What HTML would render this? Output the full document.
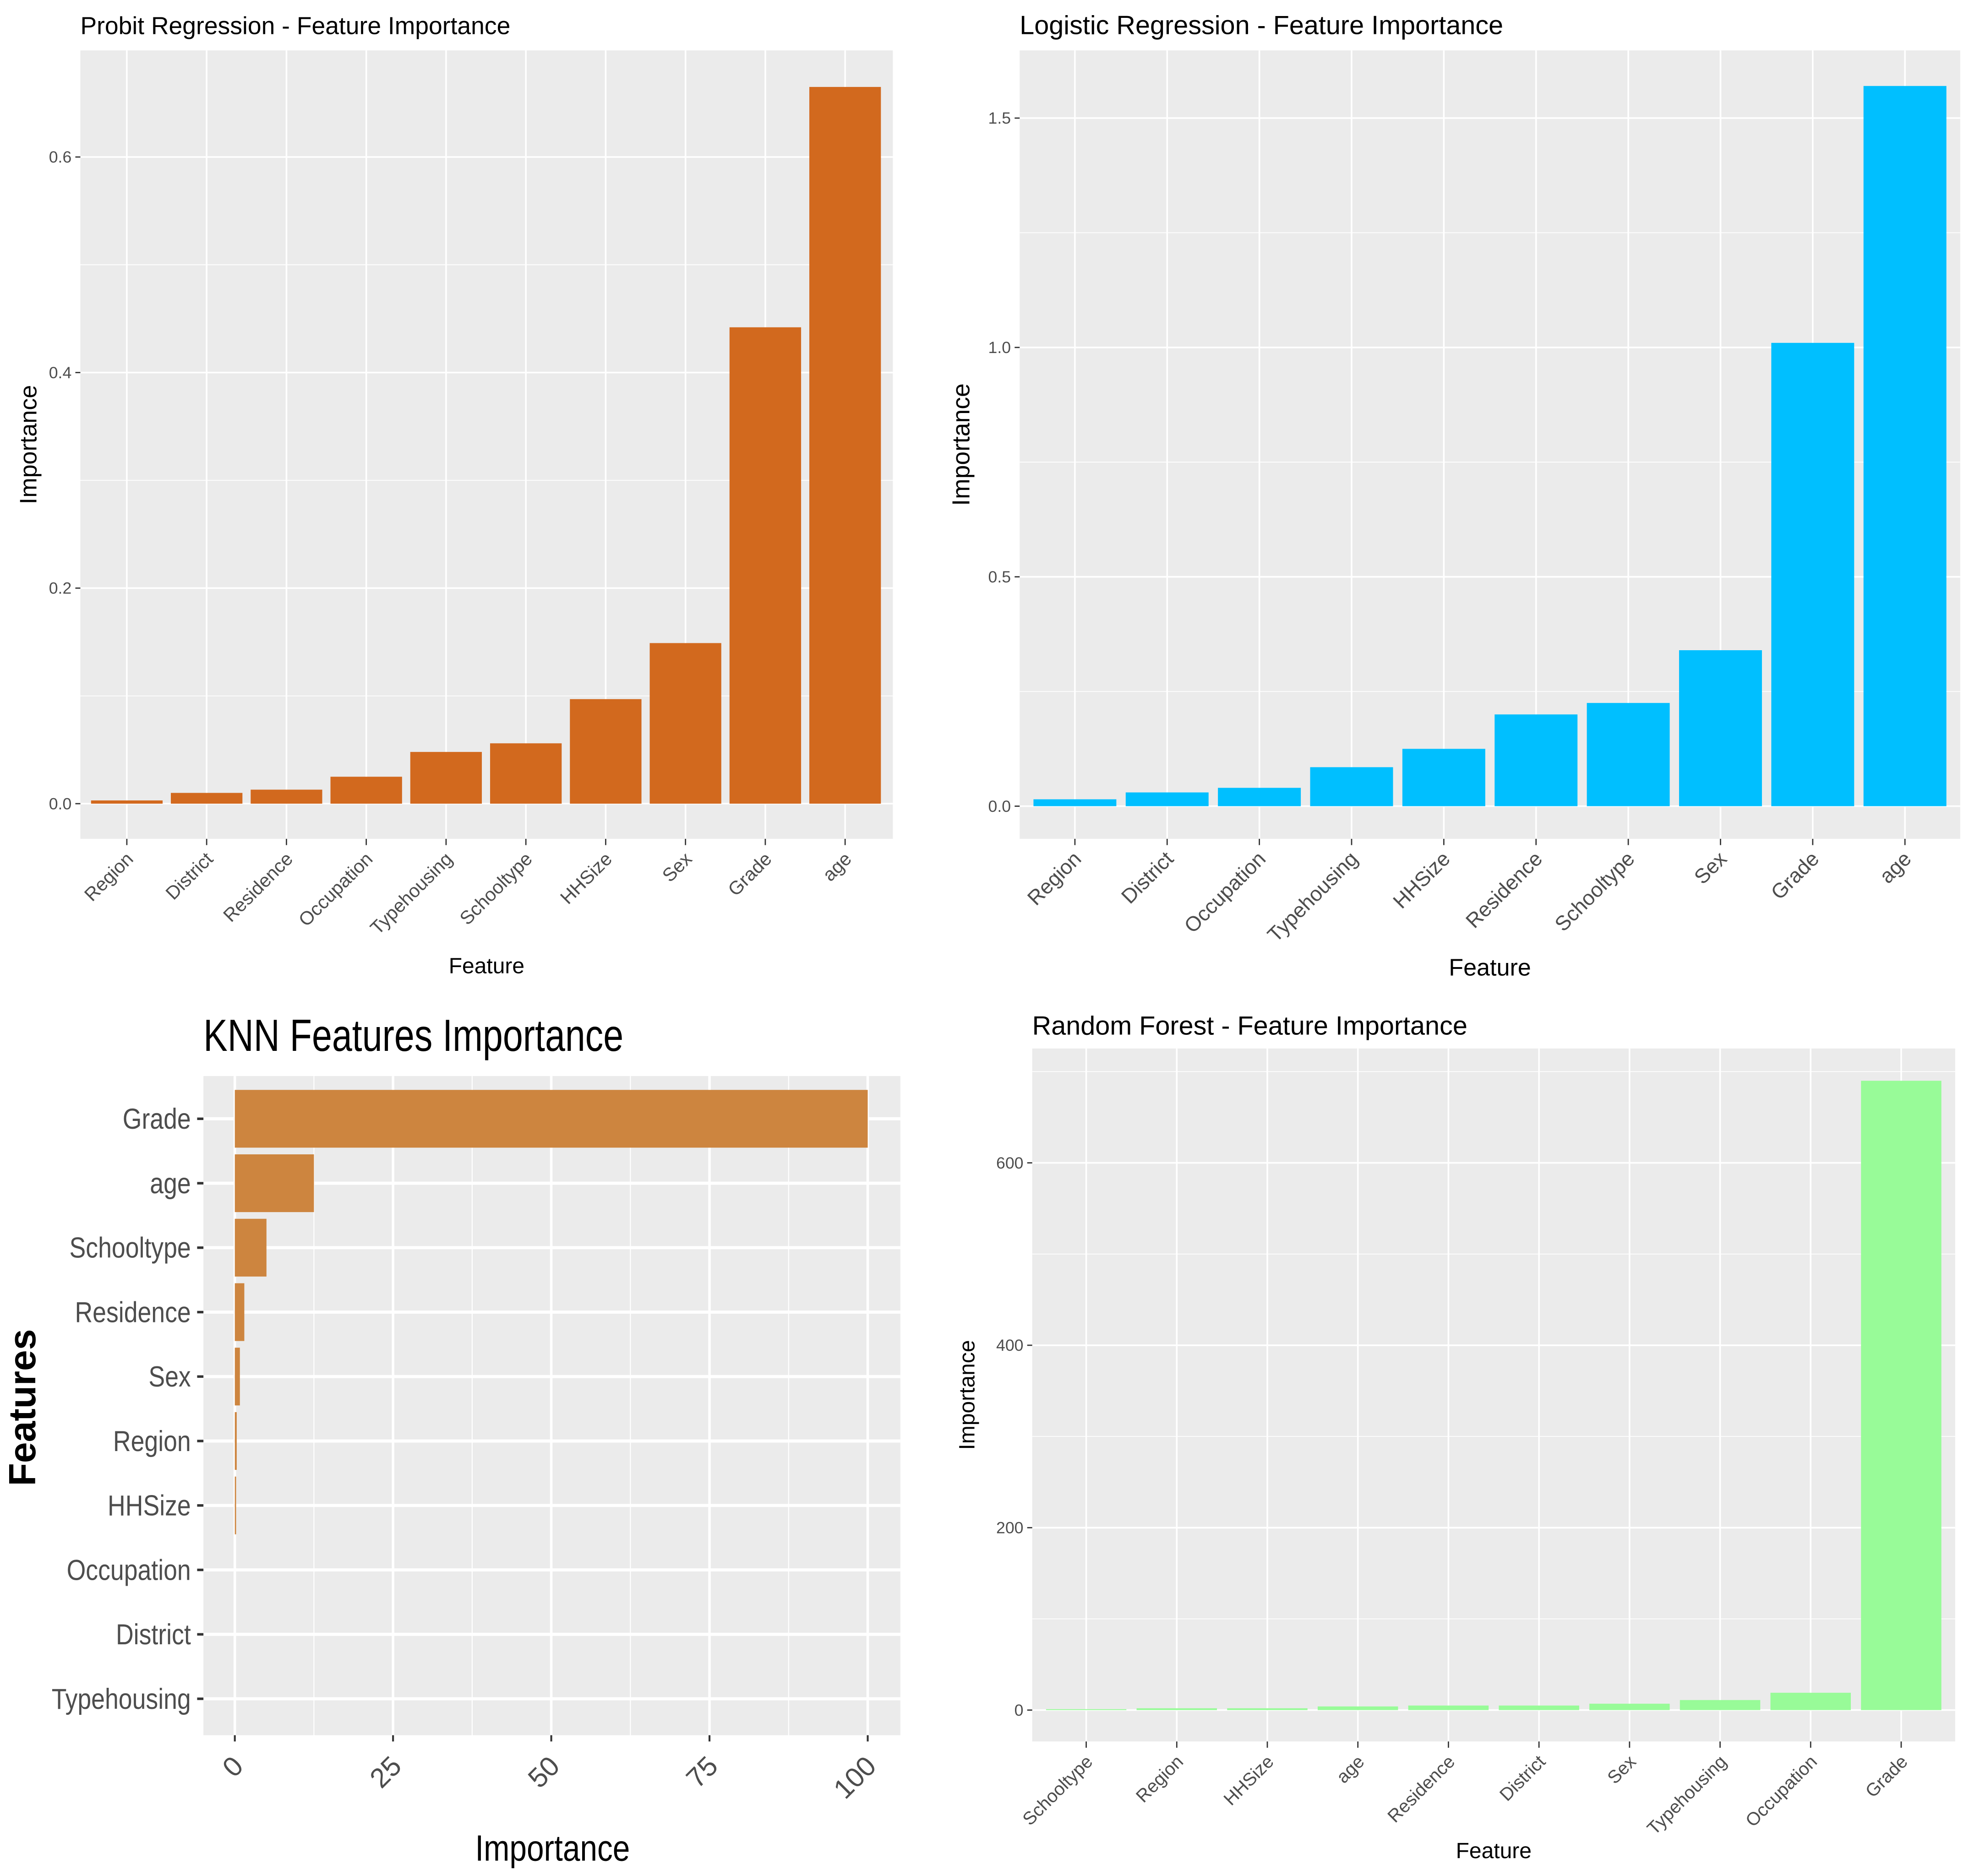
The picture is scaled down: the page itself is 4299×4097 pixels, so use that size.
<!DOCTYPE html>
<html><head><meta charset="utf-8"><style>
html,body{margin:0;padding:0;background:#fff;}
svg{display:block;font-family:"Liberation Sans",sans-serif;}
</style></head><body>
<svg id="chart" width="4299" height="4097" viewBox="0 0 1568 1494" xmlns="http://www.w3.org/2000/svg"></svg>
<script>
const probitCats=["Region","District","Residence","Occupation","Typehousing","Schooltype","HHSize","Sex","Grade","age"];
const probitVals=[0.003,0.010,0.013,0.025,0.048,0.056,0.097,0.149,0.442,0.665];
const probitTicks=[0,0.2,0.4,0.6];
const logitCats=["Region","District","Occupation","Typehousing","HHSize","Residence","Schooltype","Sex","Grade","age"];
const logitVals=[0.015,0.030,0.040,0.085,0.125,0.200,0.225,0.340,1.010,1.570];
const logitTicks=[0,0.5,1.0,1.5];
const knnCats=["Grade","age","Schooltype","Residence","Sex","Region","HHSize","Occupation","District","Typehousing"];
const knnVals=[100,12.5,5,1.5,0.8,0.3,0.2,0,0,0];
const knnTicks=[0,25,50,75,100];
const rfCats=["Schooltype","Region","HHSize","age","Residence","District","Sex","Typehousing","Occupation","Grade"];
const rfVals=[1,2,2,4,5,5,7,11,19,690];
const rfTicks=[0,200,400,600];

const NS="http://www.w3.org/2000/svg";
const svg=document.getElementById('chart');
function el(tag,attrs,parent,text){const e=document.createElementNS(NS,tag);for(const k in attrs)e.setAttribute(k,attrs[k]);if(text!==undefined)e.textContent=text;(parent||svg).appendChild(e);return e;}

function vpanel(o){
  const g=el('g',{});
  
  
  const bg=el('rect',{x:o.x0,y:o.y0,width:o.x1-o.x0,height:o.y1-o.y0,fill:'#ebebeb'},g);
  
  
  const yS=v=>o.zeroY-(v/o.unit)*o.unitPx;
  const step=(o.lastX-o.firstX)/(o.cats.length-1);
  const xS=i=>o.firstX+i*step;
  for(let i=0;i<o.ticks.length;i++){
    const mv=o.ticks[i]+(o.ticks[1]-o.ticks[0])/2;
    const my=yS(mv);
    if(my>o.y0) el('line',{x1:o.x0,x2:o.x1,y1:my,y2:my,stroke:'#fff','stroke-width':0.6},g);
  }
  const mb=yS(-(o.ticks[1]-o.ticks[0])/2); if(mb<o.y1) el('line',{x1:o.x0,x2:o.x1,y1:mb,y2:mb,stroke:'#fff','stroke-width':0.6},g);
  o.ticks.forEach(t=>{
    const y=yS(t);
    el('line',{x1:o.x0,x2:o.x1,y1:y,y2:y,stroke:'#fff','stroke-width':1.3},g);
    el('line',{x1:o.x0-4,x2:o.x0,y1:y,y2:y,stroke:'#333','stroke-width':1},g);
    const tl=el('text',{x:o.x0-7,y:y+4.5,'text-anchor':'end','font-size':13,fill:'#4d4d4d'},g,o.tickFmt(t));
    
    
  });
  o.cats.forEach((c,i)=>{
    const x=xS(i);
    el('line',{x1:x,x2:x,y1:o.y0,y2:o.y1,stroke:'#fff','stroke-width':1.3},g);
    el('line',{x1:x,x2:x,y1:o.y1,y2:o.y1+5,stroke:'#333','stroke-width':1},g);
    const b=el('rect',{x:x-o.bw/2,y:yS(o.vals[i]),width:o.bw,height:o.zeroY-yS(o.vals[i]),fill:o.color},g);
    
    
    const t=el('text',{x:x+6,y:o.y1+17,'text-anchor':'end','font-size':o.xfs,fill:'#4d4d4d',transform:`rotate(-45 ${x+6} ${o.y1+17})`},g,c);
    
    
  });
  const tt=el('text',{x:o.titleX,y:o.titleY,'font-size':o.tfs,fill:'#000'},g,o.title);
  
  
  const xt=el('text',{x:(o.x0+o.x1)/2,y:o.xtY,'text-anchor':'middle','font-size':o.afs,fill:'#000'},g,'Feature');
  
  
  const yt=el('text',{x:o.ytX,y:(o.y0+o.y1)/2,'text-anchor':'middle','font-size':o.yfs,fill:'#000',transform:`rotate(-90 ${o.ytX} ${(o.y0+o.y1)/2})`},g,'Importance');
  
  
}

vpanel({name:'probit-panel',cats:probitCats,vals:probitVals,ticks:probitTicks,tickFmt:t=>t.toFixed(1),
  x0:64,x1:711,y0:40,y1:668,zeroY:640,unit:0.2,unitPx:171.7,firstX:101,lastX:673,bw:57,color:'#d2691e',
  xfs:15,title:'Probit Regression - Feature Importance',titleX:64,titleY:27,tfs:19.5,xtY:775,ytX:29,afs:17.5,yfs:19});
vpanel({name:'logistic-panel',cats:logitCats,vals:logitVals,ticks:logitTicks,tickFmt:t=>t.toFixed(1),
  x0:812,x1:1561,y0:40,y1:668,zeroY:642,unit:0.5,unitPx:182.7,firstX:856,lastX:1517,bw:66,color:'#00bfff',
  xfs:16.5,title:'Logistic Regression - Feature Importance',titleX:812,titleY:27,tfs:21,xtY:777,ytX:772,afs:19,yfs:19.5});
vpanel({name:'random-forest-panel',cats:rfCats,vals:rfVals,ticks:rfTicks,tickFmt:t=>String(t),
  x0:822,x1:1557,y0:835,y1:1387,zeroY:1362,unit:200,unitPx:145.3,firstX:865,lastX:1514,bw:64,color:'#98fb98',
  xfs:14.5,title:'Random Forest - Feature Importance',titleX:822,titleY:824,tfs:21,xtY:1480,ytX:776,afs:17.5,yfs:17.5});

(function(){
  const g=el('g',{});
  
  
  const x0=162,x1=717,y0=857,y1=1382;
  const bg=el('rect',{x:x0,y:y0,width:x1-x0,height:y1-y0,fill:'#ebebeb'},g);
  
  
  const xS=v=>187+v*(691-187)/100;
  const step=(1353-891)/(knnCats.length-1);
  const yS=i=>891+i*step;
  for(let i=0;i<knnTicks.length;i++){
    const mx=xS(knnTicks[i]+12.5); if(mx<x1) el('line',{x1:mx,x2:mx,y1:y0,y2:y1,stroke:'#fff','stroke-width':0.8},g);
  }
  knnTicks.forEach(t=>{
    const x=xS(t);
    el('line',{x1:x,x2:x,y1:y0,y2:y1,stroke:'#fff','stroke-width':2},g);
    el('line',{x1:x,x2:x,y1:y1,y2:y1+5,stroke:'#333','stroke-width':1.5},g);
    const tl=el('text',{x:x+8,y:y1+26,'text-anchor':'end','font-size':22,fill:'#4d4d4d',transform:`rotate(-45 ${x+8} ${y1+26})`},g,String(t));
    
    
  });
  knnCats.forEach((c,i)=>{
    const y=yS(i);
    el('line',{x1:x0,x2:x1,y1:y,y2:y,stroke:'#fff','stroke-width':2.5},g);
    el('line',{x1:x0-5,x2:x0,y1:y,y2:y,stroke:'#333','stroke-width':2},g);
    const w=xS(knnVals[i])-xS(0);
    if(w>0){
      const b=el('rect',{x:xS(0),y:y-23,width:w,height:46,fill:'#cd853f'},g);
      
      
    }
    const t=el('text',{x:x0-10,y:y+8,'text-anchor':'end','font-size':23,fill:'#4d4d4d',transform:`translate(${(x0-10)*(1-0.85)} 0) scale(0.85 1)`},g,c);
    
    
  });
  const tt=el('text',{x:162,y:837,'font-size':36,fill:'#000',transform:`translate(${162*(1-0.8)} 0) scale(0.8 1)`},g,'KNN Features Importance');
  
  
  const xt=el('text',{x:440,y:1482,'text-anchor':'middle','font-size':29,fill:'#000',transform:`translate(${440*(1-0.85)} 0) scale(0.85 1)`},g,'Importance');
  
  
  const yt=el('text',{x:28,y:1121,'text-anchor':'middle','font-size':30,'font-weight':'bold',fill:'#000',transform:'rotate(-90 28 1121)'},g,'Features');
  
  
})();
</script>
</body></html>
